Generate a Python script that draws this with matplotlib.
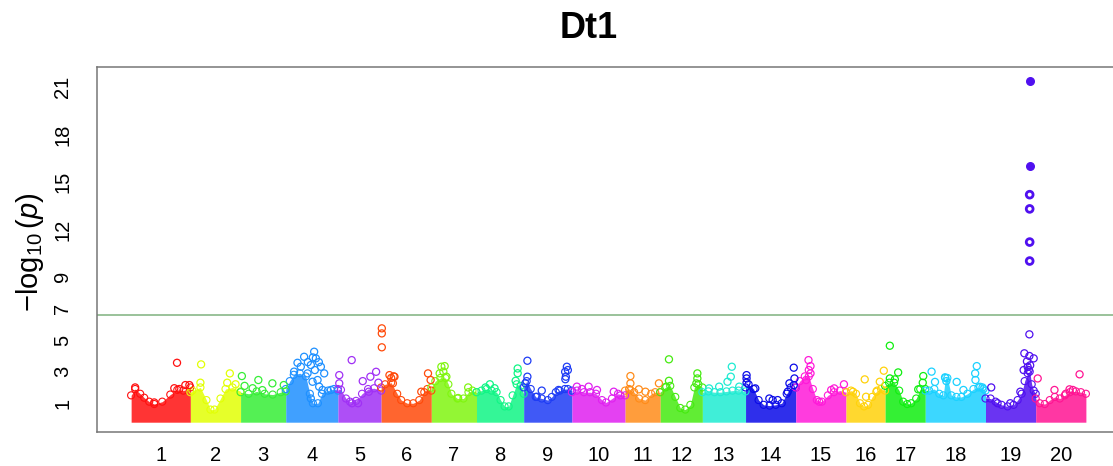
import matplotlib
matplotlib.use("Agg")
import matplotlib.pyplot as plt

plt.rcParams['font.family'] = ['Liberation Sans', 'DejaVu Sans']
plt.rcParams['mathtext.fontset'] = 'custom'
plt.rcParams['mathtext.rm'] = 'Liberation Sans'
plt.rcParams['mathtext.it'] = 'Liberation Sans:italic'

# chromosome lengths (Mb) and colours
chrom_names = [str(i) for i in range(1, 21)]
chrom_len = [59, 50, 45, 52, 43, 50, 45, 47, 48, 53, 35, 42, 43, 50, 50, 39, 40, 60, 50, 50]
chrom_colors = ['#FF1010', '#E2FF05', '#36EE36', '#1E90FF', '#A030F5',
                '#FF4A0A', '#80F510', '#10F585', '#1E3CF5', '#E020F0',
                '#FF8C1A', '#45EA10', '#1EEBD2', '#0A0AE8', '#FF1AD9',
                '#FFD20A', '#10EE10', '#1AD1FF', '#5010F0', '#FF1493']

# dense SNP cloud: upper edge along each chromosome (pos in Mb, -log10 p)
band_pos = [
    [0, 4, 9, 13, 18, 23, 31, 39, 46, 52, 59],
    [0, 2, 10, 16, 20, 24, 30, 35, 42, 50],
    [0, 8, 16, 24, 32, 40, 45],
    [0, 4, 8, 14, 20, 24, 27, 32, 36, 42, 48, 52],
    [0, 3, 8, 12, 18, 24, 30, 36, 43],
    [0, 4, 10, 16, 20, 26, 32, 38, 43, 46, 50],
    [0, 4, 9, 14, 17, 20, 26, 32, 37, 41, 45],
    [0, 5, 10, 15, 20, 24, 28, 32, 36, 40, 44, 47],
    [0, 3, 7, 12, 18, 24, 28, 32, 36, 41, 44, 48],
    [0, 5, 12, 18, 24, 30, 34, 40, 46, 53],
    [0, 4, 9, 14, 20, 26, 30, 35],
    [0, 5, 10, 15, 20, 25, 30, 34, 38, 42],
    [0, 6, 12, 18, 24, 30, 36, 43],
    [0, 3, 8, 13, 18, 24, 30, 36, 41, 45, 50],
    [0, 4, 9, 13, 17, 21, 26, 32, 38, 44, 50],
    [0, 5, 10, 14, 18, 22, 26, 31, 35, 39],
    [0, 4, 9, 14, 18, 22, 26, 31, 35, 40],
    [0, 4, 9, 14, 18, 20, 22, 26, 31, 36, 42, 48, 53, 58, 60],
    [0, 5, 10, 16, 22, 28, 32, 36, 39, 42, 44, 46, 48, 50],
    [0, 4, 9, 14, 19, 24, 29, 34, 40, 45, 50],
]
band_top = [
    [1.5, 1.9, 1.6, 1.35, 1.1, 0.95, 1.1, 1.55, 1.85, 1.8, 2.0],
    [1.7, 1.8, 2.0, 1.2, 0.6, 0.6, 1.3, 1.9, 2.0, 1.75],
    [1.7, 1.6, 1.75, 1.6, 1.55, 1.7, 1.75],
    [1.9, 2.4, 2.8, 2.9, 2.7, 1.6, 1.0, 1.0, 1.6, 1.8, 1.9, 1.8],
    [1.9, 1.85, 1.3, 1.1, 1.15, 1.6, 1.9, 1.95, 1.8],
    [2.0, 2.2, 2.3, 1.6, 1.2, 1.0, 1.0, 1.2, 1.7, 1.9, 1.8],
    [2.0, 2.4, 2.6, 2.6, 2.2, 1.6, 1.3, 1.3, 1.7, 1.8, 1.7],
    [1.7, 1.8, 1.9, 1.8, 1.7, 1.2, 0.8, 0.8, 1.5, 2.2, 2.1, 1.6],
    [2.0, 2.4, 1.9, 1.4, 1.3, 1.2, 1.4, 1.7, 1.8, 1.9, 1.9, 1.8],
    [1.7, 1.8, 1.7, 1.7, 1.6, 1.2, 1.05, 1.3, 1.6, 1.5],
    [1.8, 1.9, 1.7, 1.3, 1.2, 1.6, 1.7, 1.7],
    [1.7, 2.0, 2.1, 1.4, 0.7, 0.6, 0.9, 2.0, 2.2, 2.0],
    [1.7, 1.75, 1.7, 1.7, 1.75, 1.8, 1.8, 1.75],
    [2.0, 2.2, 1.9, 1.2, 0.9, 0.85, 0.9, 1.0, 1.6, 2.0, 2.0],
    [2.0, 2.4, 2.7, 2.7, 1.9, 1.2, 1.1, 1.5, 1.7, 1.8, 1.7],
    [1.7, 1.8, 1.6, 1.0, 0.8, 0.9, 1.4, 1.8, 1.9, 1.8],
    [2.1, 2.3, 2.3, 1.8, 1.1, 0.95, 1.0, 1.3, 1.9, 1.9],
    [1.8, 1.8, 1.9, 1.6, 1.5, 2.6, 2.6, 1.5, 1.4, 1.4, 1.6, 1.9, 2.0, 1.9, 1.8],
    [1.3, 1.3, 1.1, 0.9, 0.8, 0.9, 1.2, 1.6, 2.4, 2.9, 3.0, 2.2, 1.8, 1.6],
    [1.3, 1.0, 0.95, 1.2, 1.4, 1.3, 1.5, 1.7, 1.75, 1.7, 1.6],
]

# SNPs standing out above the cloud
hit_pos = [
    [4, 45.7, 43, 54, 58, 23, 48],
    [10.7, 39.3, 36.7, 45, 10],
    [1.3, 17.7, 31.7, 43, 4, 21.7, 12],
    [8.3, 11.7, 15, 18.3, 21.7, 25, 26.7, 28.3, 30, 31.7, 33.3, 35, 36.7, 38.3, 25, 45, 22, 27, 33, 29],
    [13.7, 1.3, 1.3, 24.7, 32.3, 38, 40.3, 30.7, 14, 20],
    [0.7, 0.7, 0.7, 8.3, 13.3, 11.7, 46.7, 49.3, 40, 10, 12.5],
    [10, 13.3, 8.3, 15, 36.7, 26.7, 12],
    [13.3, 41, 39, 9, 18, 41],
    [3.7, 3.7, 1.7, 43, 41.3, 42, 41.5, 34.7, 18, 13, 44],
    [5, 16.7, 25, 41.7, 48.3, 10],
    [5.3, 5.3, 5.3, 13.7, 20.3, 33.7],
    [8.7, 8.7, 6, 37, 37, 36],
    [29.3, 28.3, 25, 16.7, 6.7, 36.7],
    [1, 1, 1, 9.7, 23.7, 32, 42, 43.7, 48, 48.7, 48, 27],
    [12.7, 14.7, 14.7, 10.3, 23.3, 35.3, 48, 38.3, 13],
    [18.7, 37.7, 33.7, 30.3, 20, 7],
    [4.7, 13, 4.7, 9.7, 38, 37.5, 33],
    [6.3, 19.7, 31.3, 51.3, 49.7, 50, 54.7, 57, 9.7, 38, 21],
    [43.7, 38.7, 43.7, 48, 41.3, 43, 38, 34.7, 5.7, 24.7, 12, 44.5, 42],
    [2, 43.7, 18.7, 33.7, 37, 30],
]
hit_val = [
    [2.0, 3.56, 1.95, 2.15, 2.15, 1.05, 1.9],
    [3.46, 2.89, 2.3, 2.2, 2.3],
    [2.72, 2.47, 2.26, 2.15, 2.1, 1.83, 1.95],
    [3.0, 3.56, 3.31, 3.94, 2.89, 3.42, 2.36, 4.26, 3.84, 2.47, 2.05, 3.31, 1.84, 2.89, 1.3, 1.84, 3.6, 3.9, 3.6, 3.1],
    [3.73, 2.78, 2.26, 2.4, 2.68, 2.99, 2.3, 1.73, 1.0, 1.0],
    [5.74, 5.42, 4.54, 2.78, 2.68, 2.26, 2.89, 2.47, 1.73, 2.6, 2.7],
    [3.31, 3.35, 2.89, 2.68, 2.0, 1.33, 3.0],
    [2.2, 3.2, 2.42, 2.0, 1.95, 2.9],
    [3.69, 2.68, 2.26, 3.31, 2.99, 2.68, 2.52, 1.84, 1.8, 1.41, 3.1],
    [2.05, 2.05, 1.84, 1.73, 1.5, 1.9],
    [2.72, 2.26, 1.84, 1.88, 1.73, 2.26],
    [3.78, 2.42, 2.05, 2.89, 2.57, 2.26],
    [3.31, 2.68, 2.36, 2.05, 1.94, 2.05],
    [2.78, 2.57, 2.3, 1.94, 1.3, 1.2, 1.73, 2.26, 3.25, 2.57, 2.15, 1.2],
    [3.73, 3.35, 2.89, 2.47, 1.1, 1.84, 2.2, 1.94, 3.1],
    [2.51, 3.06, 2.36, 1.73, 1.41, 1.73],
    [4.64, 2.95, 2.57, 2.51, 2.72, 2.3, 1.88],
    [3.0, 2.64, 2.35, 3.35, 2.89, 2.47, 2.04, 2.0, 2.35, 1.84, 2.4],
    [5.36, 4.16, 3.99, 3.84, 3.65, 3.1, 3.1, 1.73, 2.0, 1.0, 1.0, 3.4, 3.3],
    [2.57, 2.83, 1.84, 1.88, 1.84, 1.6],
]

# significant SNPs at the Dt1 locus (chromosome 19)
lead_chr = 19
lead_pos = [44, 44, 44, 44, 44, 44]
lead_val = [21.4, 16.0, 14.2, 13.3, 11.2, 10.0]

threshold = 6.6
y_ticks = [1, 3, 5, 7, 9, 12, 15, 18, 21]

fig = plt.figure(figsize=(11.13, 4.66), dpi=100)
ax = fig.add_axes([97 / 1113, 1 - 432 / 466, 1 - 97 / 1113, (432 - 67) / 466])

starts = []
s = 0
for L in chrom_len:
    starts.append(s)
    s += L

for i in range(len(chrom_len)):
    c = chrom_colors[i]
    x0 = starts[i]
    xs = [x0 + p for p in band_pos[i]]
    ax.fill_between(xs, -0.2, band_top[i], color=c, alpha=0.85, lw=0, zorder=1)
    ax.scatter(xs, band_top[i], s=26, facecolors='none', edgecolors=c, linewidths=0.8, zorder=2)
    hx = [x0 + p for p in hit_pos[i]]
    ax.scatter(hx, hit_val[i], s=26, facecolors='none', edgecolors=c, linewidths=0.9, zorder=3)

# lead SNPs
c19 = chrom_colors[lead_chr - 1]
lx = [starts[lead_chr - 1] + p for p in lead_pos]
strong = [v > 15 for v in lead_val]
ax.scatter([x for x, f in zip(lx, strong) if f], [v for v, f in zip(lead_val, strong) if f],
           s=30, color=c19, zorder=4)
ax.scatter([x for x, f in zip(lx, strong) if not f], [v for v, f in zip(lead_val, strong) if not f],
           s=24, facecolors='none', edgecolors=c19, linewidths=2.0, zorder=4)

ax.axhline(threshold, color='#7FB27F', lw=1.1, zorder=0)

ax.set_xlim(-34, s + 27)
ax.set_ylim(-0.82, 22.28)
mids = [starts[i] + chrom_len[i] / 2 for i in range(len(chrom_len))]
ax.set_xticks(mids)
ax.set_xticklabels(chrom_names, fontsize=14.5)
ax.set_yticks(y_ticks)
ax.set_yticklabels([str(t) for t in y_ticks], fontsize=14.5, rotation=90, va='center')
ax.tick_params(axis='both', length=0)
ax.tick_params(axis='x', pad=10)
ax.tick_params(axis='y', pad=18)

for side in ['left', 'bottom', 'top']:
    ax.spines[side].set_color('#777777')
    ax.spines[side].set_linewidth(1.1)
ax.spines['right'].set_visible(False)

fig.text(30 / 1113, 1 - 252 / 466, r'$-\log_{10}(\mathit{p})$', rotation=90,
         ha='center', va='center', fontsize=21)
fig.text(589 / 1113, 1 - 29 / 466, 'Dt1', ha='center', va='center',
         fontsize=26, fontweight='bold')

fig.savefig('out.png', dpi=100)
